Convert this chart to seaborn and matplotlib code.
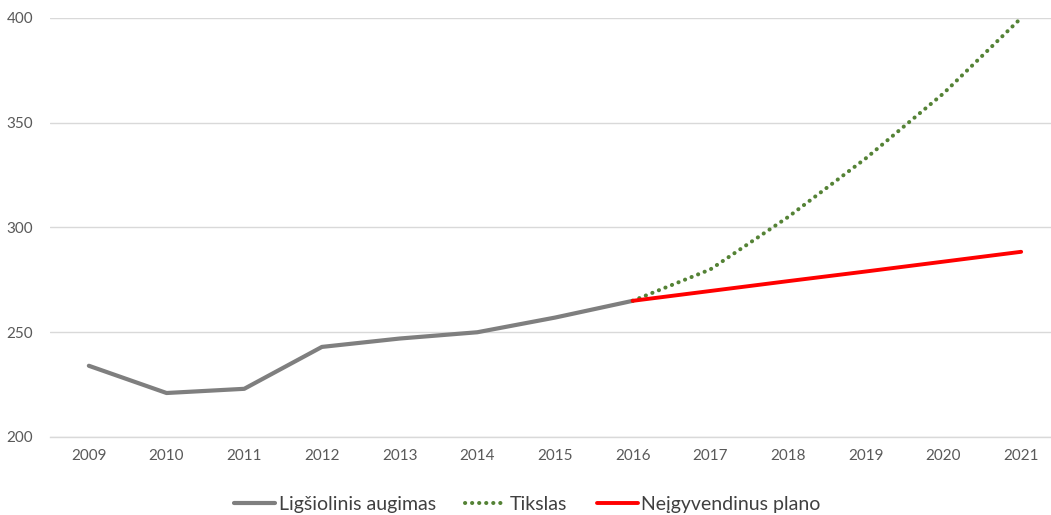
import matplotlib
matplotlib.use("Agg")
import matplotlib.pyplot as plt
import seaborn as sns
import pandas as pd
from matplotlib.ticker import FixedLocator

years_hist = [2009, 2010, 2011, 2012, 2013, 2014, 2015, 2016]
hist_vals = [234, 221, 223, 243, 247, 250, 257, 265]

years_proj = [2016, 2017, 2018, 2019, 2020, 2021]
target_vals = [265, 280, 305, 333, 364, 400]
plan_vals = [265, 269.7, 274.4, 279, 283.7, 288.4]

all_years = list(range(2009, 2022))
y_ticks = [200, 250, 300, 350, 400]

sns.set_theme(style="white")
plt.rcParams["font.family"] = ["Lato", "DejaVu Sans"]

fig = plt.figure(figsize=(10.51, 5.15), dpi=100)
ax = fig.add_axes([50 / 1051, 1 - 437 / 515, 1010 / 1051, (437 - 18) / 515])

df_hist = pd.DataFrame({"year": years_hist, "value": hist_vals})
df_target = pd.DataFrame({"year": years_proj, "value": target_vals})
df_plan = pd.DataFrame({"year": years_proj, "value": plan_vals})

sns.lineplot(data=df_hist, x="year", y="value", ax=ax, color="#7f7f7f", lw=3.0,
             solid_capstyle="round", label="Ligšiolinis augimas", zorder=3)
sns.lineplot(data=df_target, x="year", y="value", ax=ax, color="#548235", lw=2.9,
             linestyle=(0, (0.05, 1.7)), dash_capstyle="round",
             label="Tikslas", zorder=4)
sns.lineplot(data=df_plan, x="year", y="value", ax=ax, color="#ff0000", lw=2.8,
             solid_capstyle="round", label="Neįgyvendinus plano", zorder=5)

ax.set_xlim(2008.5, 2021.5)
ax.set_ylim(200, 400)
ax.set_yticks(y_ticks)
ax.set_xticks(all_years)
ax.set_xticklabels([str(y) for y in all_years])
ax.xaxis.set_minor_locator(FixedLocator([y + 0.5 for y in range(2008, 2022)]))
ax.tick_params(axis="x", which="major", length=0, pad=9, labelsize=11, labelcolor="#595959")
ax.tick_params(axis="x", which="minor", length=4, width=1, color="#d9d9d9", direction="out")
ax.tick_params(axis="y", which="major", length=0, pad=12, labelsize=11, labelcolor="#595959")
ax.set_xlabel("")
ax.set_ylabel("")

ax.yaxis.grid(True, color="#d9d9d9", lw=1)
ax.set_axisbelow(True)
for s in ["top", "right", "left"]:
    ax.spines[s].set_visible(False)
ax.spines["bottom"].set_color("#d9d9d9")
ax.spines["bottom"].set_linewidth(1)

handles, labels = ax.get_legend_handles_labels()
ax.get_legend().remove()
leg = fig.legend(handles, labels, loc="center", bbox_to_anchor=(0.502, 0.02),
                 ncol=3, frameon=False, fontsize=14, handlelength=2.1,
                 handletextpad=0.2, columnspacing=1.5)
for t in leg.get_texts():
    t.set_color("#404040")

fig.savefig("out.png", dpi=100)
